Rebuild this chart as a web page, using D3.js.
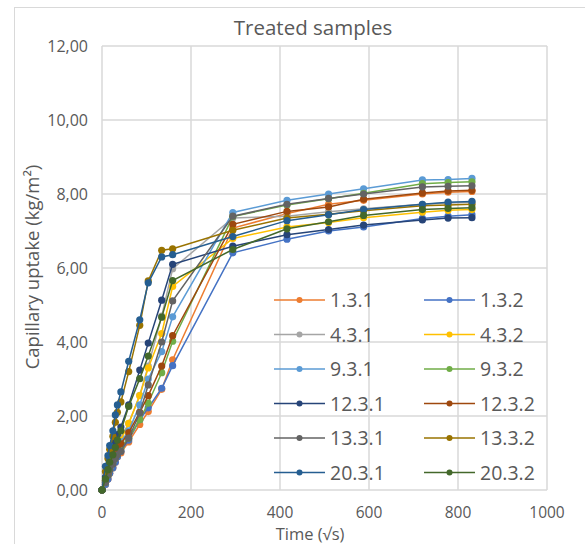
<!DOCTYPE html>
<html>
<head>
<meta charset="utf-8">
<script src="https://cdn.jsdelivr.net/npm/d3@7"></script>
<style>
  body { margin: 0; background: #fff; }
</style>
</head>
<body>
<div id="chart"></div>
<script>
// time axis, square root of seconds
var times = [0, 7.75, 13.42, 17.32, 24.49, 30, 34.64, 42.43, 60, 84.85, 103.92, 134.16, 158.75,
             293.94, 415.69, 509.12, 587.88, 720, 777.69, 831.38];

var seriesNames = ["1.3.1", "1.3.2", "4.3.1", "4.3.2", "9.3.1", "9.3.2",
                   "12.3.1", "12.3.2", "13.3.1", "13.3.2", "20.3.1", "20.3.2"];

var seriesColors = ["#ED7D31", "#4472C4", "#A5A5A5", "#FFC000", "#5B9BD5", "#70AD47",
                    "#264478", "#9E480E", "#636363", "#997300", "#255E91", "#43682B"];

var v131  = [0, 0.15, 0.3, 0.45, 0.6, 0.75, 0.9, 1.0, 1.3, 1.77, 2.12, 2.72, 3.52, 7.08, 7.47, 7.72, 7.83, 8.0, 8.05, 8.07];
var v132  = [0, 0.15, 0.3, 0.45, 0.6, 0.75, 0.9, 1.05, 1.35, 1.9, 2.22, 2.75, 3.36, 6.41, 6.78, 7.0, 7.11, 7.34, 7.4, 7.44];
var v431  = [0, 0.25, 0.5, 0.7, 0.9, 1.1, 1.25, 1.4, 1.8, 2.56, 3.35, 4.7, 5.98, 7.35, 7.4, 7.52, 7.6, 7.72, 7.76, 7.78];
var v432  = [0, 0.25, 0.45, 0.6, 0.8, 1.0, 1.15, 1.35, 1.8, 2.55, 3.3, 4.23, 5.5, 6.8, 7.11, 7.23, 7.36, 7.51, 7.56, 7.58];
var v931  = [0, 0.25, 0.45, 0.65, 0.85, 1.0, 1.15, 1.3, 1.6, 2.3, 3.0, 3.74, 4.68, 7.5, 7.83, 8.0, 8.14, 8.38, 8.39, 8.42];
var v932  = [0, 0.2, 0.4, 0.55, 0.75, 0.9, 1.05, 1.15, 1.4, 1.9, 2.35, 3.17, 4.02, 7.39, 7.7, 7.87, 8.02, 8.28, 8.31, 8.33];
var v1231 = [0, 0.35, 0.6, 0.8, 1.05, 1.3, 1.5, 1.7, 2.3, 3.24, 3.97, 5.13, 6.1, 6.59, 6.9, 7.04, 7.16, 7.3, 7.35, 7.36];
var v1232 = [0, 0.25, 0.45, 0.65, 0.85, 1.0, 1.15, 1.25, 1.55, 2.1, 2.55, 3.35, 4.17, 7.18, 7.53, 7.65, 7.86, 8.03, 8.08, 8.1];
var v1331 = [0, 0.2, 0.4, 0.55, 0.7, 0.85, 0.95, 1.05, 1.4, 2.08, 2.84, 4.0, 5.11, 7.4, 7.72, 7.88, 8.0, 8.19, 8.21, 8.22];
var v1332 = [0, 0.5, 0.85, 1.1, 1.45, 1.83, 2.1, 2.38, 3.2, 4.45, 5.65, 6.48, 6.52, 7.02, 7.35, 7.45, 7.55, 7.68, 7.7, 7.72];
var v2031 = [0, 0.64, 0.93, 1.2, 1.6, 2.03, 2.3, 2.65, 3.48, 4.6, 5.6, 6.3, 6.36, 6.85, 7.28, 7.44, 7.58, 7.72, 7.78, 7.8];
var v2032 = [0, 0.3, 0.55, 0.75, 0.95, 1.15, 1.35, 1.6, 2.26, 3.01, 3.62, 4.67, 5.66, 6.5, 7.06, 7.25, 7.42, 7.58, 7.61, 7.63];

var seriesValues = [v131, v132, v431, v432, v931, v932, v1231, v1232, v1331, v1332, v2031, v2032];

var xTicks = [0, 200, 400, 600, 800, 1000];
var yTicks = [0, 2, 4, 6, 8, 10, 12];

var textColor = "#595959";
var gridColor = "#d9d9d9";
var fontFamily = "'Open Sans', 'Noto Sans', sans-serif";

var width = 585, height = 544;
var svg = d3.select("#chart").append("svg")
  .attr("width", width)
  .attr("height", height);

// outer chart border
svg.append("rect")
  .attr("x", 14.5).attr("y", 7.5)
  .attr("width", 600).attr("height", 600)
  .attr("fill", "none")
  .attr("stroke", gridColor);

var x = d3.scaleLinear().domain([0, 1000]).range([102, 547]);
var y = d3.scaleLinear().domain([0, 12]).range([490, 46]);

// grid
svg.append("g").selectAll("line.v")
  .data(xTicks)
  .enter().append("line")
  .attr("x1", function(d){ return x(d); })
  .attr("x2", function(d){ return x(d); })
  .attr("y1", y(0)).attr("y2", y(12))
  .attr("stroke", gridColor).attr("stroke-width", 1.5);

svg.append("g").selectAll("line.h")
  .data(yTicks)
  .enter().append("line")
  .attr("x1", x(0)).attr("x2", x(1000))
  .attr("y1", function(d){ return y(d); })
  .attr("y2", function(d){ return y(d); })
  .attr("stroke", gridColor).attr("stroke-width", 1.5);

// tick labels
svg.append("g").selectAll("text")
  .data(yTicks)
  .enter().append("text")
  .attr("x", 88)
  .attr("y", function(d){ return y(d) + 6; })
  .attr("text-anchor", "end")
  .attr("font-family", fontFamily)
  .attr("font-size", 16)
  .attr("fill", textColor)
  .text(function(d){ return d3.format(".2f")(d).replace(".", ","); });

svg.append("g").selectAll("text")
  .data(xTicks)
  .enter().append("text")
  .attr("x", function(d){ return x(d); })
  .attr("y", 518)
  .attr("text-anchor", "middle")
  .attr("font-family", fontFamily)
  .attr("font-size", 15.5)
  .attr("fill", textColor)
  .text(function(d){ return d; });

// titles
svg.append("text")
  .attr("x", 313).attr("y", 35)
  .attr("text-anchor", "middle")
  .attr("font-family", fontFamily)
  .attr("font-size", 20.5)
  .attr("fill", textColor)
  .text("Treated samples");

svg.append("text")
  .attr("x", 310).attr("y", 539.5)
  .attr("text-anchor", "middle")
  .attr("font-family", fontFamily)
  .attr("font-size", 16.5)
  .attr("fill", textColor)
  .text("Time (√s)");

svg.append("text")
  .attr("transform", "translate(39,267) rotate(-90)")
  .attr("text-anchor", "middle")
  .attr("font-family", fontFamily)
  .attr("font-size", 18.5)
  .attr("fill", textColor)
  .text("Capillary uptake (kg/m²)");

// series
var line = d3.line()
  .x(function(d, i){ return x(times[i]); })
  .y(function(d){ return y(d); });

seriesValues.forEach(function(vals, s){
  var g = svg.append("g");
  g.append("path")
    .datum(vals)
    .attr("d", line)
    .attr("fill", "none")
    .attr("stroke", seriesColors[s])
    .attr("stroke-width", 1.5);
  g.selectAll("circle")
    .data(vals)
    .enter().append("circle")
    .attr("cx", function(d, i){ return x(times[i]); })
    .attr("cy", function(d){ return y(d); })
    .attr("r", 3.6)
    .attr("fill", seriesColors[s]);
});

// legend, two columns
var legend = svg.append("g");
seriesNames.forEach(function(name, i){
  var col = i % 2, row = Math.floor(i / 2);
  var lx = col === 0 ? 274 : 424;
  var ly = 300 + row * 34.5;
  var item = legend.append("g");
  item.append("line")
    .attr("x1", lx).attr("x2", lx + 51)
    .attr("y1", ly).attr("y2", ly)
    .attr("stroke", seriesColors[i]).attr("stroke-width", 1.5);
  item.append("circle")
    .attr("cx", lx + 25.5).attr("cy", ly)
    .attr("r", 3)
    .attr("fill", seriesColors[i]);
  item.append("text")
    .attr("x", lx + 56).attr("y", ly + 7)
    .attr("font-family", fontFamily)
    .attr("font-size", 19.5)
    .attr("fill", textColor)
    .text(name);
});
</script>
</body>
</html>
